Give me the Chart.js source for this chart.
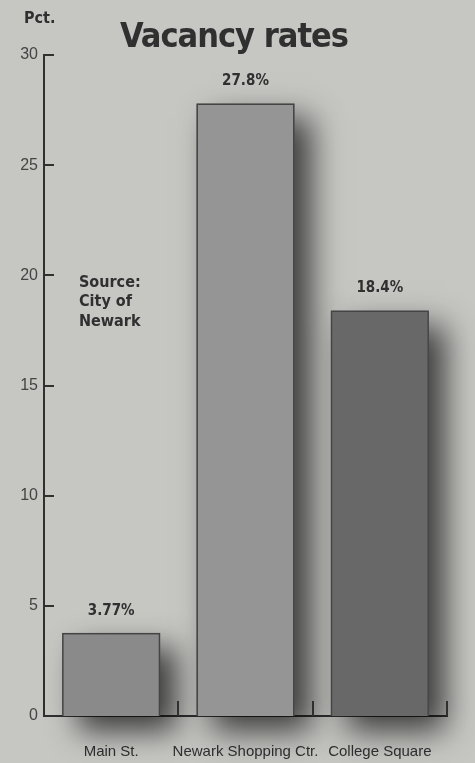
<!DOCTYPE html>
<html>
<head>
<meta charset="utf-8">
<script src="https://cdn.jsdelivr.net/npm/chart.js@4"></script>
<style>
  html, body { margin: 0; padding: 0; background: #c6c6c3; }
  #wrap { width: 475px; height: 763px; }
</style>
</head>
<body>
<div id="wrap"><canvas id="myChart"></canvas></div>
<script>
// data
var categories = ["Main St.", "Newark Shopping Ctr.", "College Square"];
var rates = [3.77, 27.8, 18.4];
var rateLabels = ["3.77%", "27.8%", "18.4%"];
var barColors = ["#8a8a8a", "#959595", "#686868"];
var yTicks = [0, 5, 10, 15, 20, 25, 30];

var narrow = "'Liberation Sans Narrow', 'DejaVu Sans Condensed', sans-serif";
var plain = "'Liberation Sans', Arial, sans-serif";
var ink = "#303030";

// grey paper, soft bar shadows, inward ticks and the loose text
var paperPlugin = {
  id: "paper",
  beforeDraw: function (chart) {
    var ctx = chart.ctx;
    ctx.save();
    ctx.fillStyle = "#c6c6c3";
    ctx.fillRect(0, 0, chart.width, chart.height);
    ctx.restore();
  },
  beforeDatasetsDraw: function (chart) {
    // the bar element clips itself, so cast the shadow from its box here
    var ctx = chart.ctx;
    ctx.save();
    ctx.shadowColor = "rgba(0,0,0,0.7)";
    ctx.shadowBlur = 30;
    ctx.shadowOffsetX = 16;
    ctx.shadowOffsetY = 15;
    ctx.fillStyle = "#555555";
    chart.getDatasetMeta(0).data.forEach(function (bar) {
      var w = bar.width;
      ctx.fillRect(bar.x - w / 2, bar.y, w, bar.base - bar.y);
    });
    ctx.restore();
  },
  afterDraw: function (chart) {
    var ctx = chart.ctx;
    var x = chart.scales.x;
    var y = chart.scales.y;
    var area = chart.chartArea;
    ctx.save();
    ctx.strokeStyle = ink;
    ctx.lineWidth = 2;

    // y ticks pointing into the plot
    yTicks.forEach(function (v) {
      if (v === 0) return;
      var py = Math.round(y.getPixelForValue(v));
      ctx.beginPath();
      ctx.moveTo(area.left - 1, py);
      ctx.lineTo(area.left + 10, py);
      ctx.stroke();
    });

    // x ticks between categories, pointing up
    for (var i = 0; i < categories.length; i++) {
      var px = Math.round(x.getPixelForValue(i + 0.5));
      ctx.beginPath();
      ctx.moveTo(px, area.bottom);
      ctx.lineTo(px, area.bottom - 15);
      ctx.stroke();
    }

    // value labels above bars
    ctx.fillStyle = ink;
    ctx.textAlign = "center";
    ctx.textBaseline = "middle";
    ctx.font = "bold 15px " + narrow;
    chart.getDatasetMeta(0).data.forEach(function (bar, i) {
      ctx.fillText(rateLabels[i], bar.x, bar.y - 22);
    });

    // title, unit, source
    ctx.textBaseline = "alphabetic";
    ctx.font = "bold 34px " + narrow;
    ctx.letterSpacing = "-1px";
    ctx.fillText("Vacancy rates", 234, 47);
    ctx.letterSpacing = "0px";

    ctx.textAlign = "left";
    ctx.textBaseline = "middle";
    ctx.font = "bold 16px " + narrow;
    ctx.fillText("Pct.", 24, 19);

    ctx.fillText("Source:", 79, 283);
    ctx.fillText("City of", 79, 302);
    ctx.fillText("Newark", 79, 322);
    ctx.restore();
  },
};

var ctx = document.getElementById("myChart").getContext("2d");
var myChart = new Chart(ctx, {
  type: "bar",
  data: {
    labels: categories,
    datasets: [
      {
        data: rates,
        backgroundColor: barColors,
        borderColor: "#444444",
        borderWidth: 1.5,
        barPercentage: 0.73,
        categoryPercentage: 1,
        clip: false,
      },
    ],
  },
  options: {
    responsive: true,
    maintainAspectRatio: false,
    animation: false,
    layout: { padding: { top: 55, right: 28, left: 0, bottom: 0 } },
    plugins: {
      legend: { display: false },
      tooltip: { enabled: false },
    },
    scales: {
      x: {
        z: 1,
        offset: true,
        grid: { display: false, drawTicks: false },
        border: { display: true, color: ink, width: 2 },
        ticks: {
          autoSkip: false,
          maxRotation: 0,
          padding: 27,
          color: ink,
          font: { family: plain, size: 15 },
        },
        afterFit: function (scale) {
          scale.height = 47;
        },
      },
      y: {
        z: 1,
        min: 0,
        max: 30,
        grid: { display: false, drawTicks: false },
        border: { display: true, color: ink, width: 2 },
        ticks: {
          stepSize: 5,
          padding: 6,
          color: "#444444",
          font: { family: plain, size: 16 },
        },
        afterFit: function (scale) {
          scale.width = 44;
        },
      },
    },
  },
  plugins: [paperPlugin],
});
</script>
</body>
</html>
